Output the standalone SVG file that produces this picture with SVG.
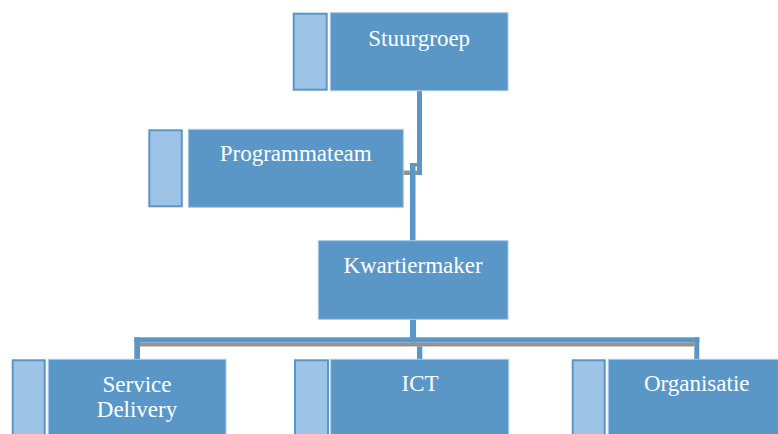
<svg xmlns="http://www.w3.org/2000/svg" width="778" height="434" viewBox="0 0 778 434">
<style>
.main{fill:#5A97C6;stroke:#A9C8E6;stroke-width:1}
.side{fill:#9DC3E6;stroke:#5A97C6;stroke-width:2}
.lbl{font-family:"Liberation Serif","DejaVu Serif",serif;font-size:23px;fill:#FFFFFF;text-anchor:middle}
.blue{fill:#5A97C6}
.gray{fill:#939393}
</style>
<rect width="778" height="434" fill="#FFFFFF"/>
<g id="connectors">
  <rect class="gray" x="402.5" y="170.5" width="19.5" height="4.5"/>
  <rect class="blue" x="417" y="90.5" width="5" height="84.5"/>
  <rect class="blue" x="410" y="163" width="12" height="3.5"/>
  <rect class="blue" x="410" y="163" width="5.5" height="78"/>
  <rect class="gray" x="410.7" y="241.5" width="5.3" height="4.2"/>
  <rect class="gray" x="140" y="342.3" width="554.3" height="4.2"/>
  <rect class="blue" x="134.3" y="337.3" width="565" height="5"/>
  <rect class="blue" x="410" y="319.5" width="6" height="22.8"/>
  <rect class="blue" x="134.3" y="337.3" width="5.7" height="27"/>
  <rect class="blue" x="694.3" y="337.3" width="5" height="27"/>
  <rect class="blue" x="417" y="346.5" width="5.3" height="17.8"/>
  <rect class="gray" x="135" y="360" width="4.3" height="4.3"/>
  <rect class="gray" x="417.3" y="360" width="4.4" height="4.3"/>
  <rect class="gray" x="695" y="360" width="4.3" height="4.3"/>
</g>
<g id="stuurgroep">
  <rect class="side" x="293.7" y="13.7" width="33" height="76"/>
  <rect class="main" x="330.3" y="12.7" width="177.7" height="78"/>
  <text class="lbl" x="419.2" y="45.7">Stuurgroep</text>
</g>
<g id="programmateam">
  <rect class="side" x="149.3" y="130.3" width="32.5" height="76"/>
  <rect class="main" x="188.3" y="129.3" width="215" height="78"/>
  <text class="lbl" x="295.7" y="160.8">Programmateam</text>
</g>
<g id="kwartiermaker">
  <rect class="main" x="318.3" y="240.7" width="189.7" height="78.6"/>
  <text class="lbl" x="413" y="273.3">Kwartiermaker</text>
</g>
<g id="service-delivery">
  <rect class="side" x="12.7" y="360.3" width="32" height="80"/>
  <rect class="main" x="48.3" y="359.3" width="177.7" height="80"/>
  <text class="lbl" x="137" y="391.5">Service</text>
  <text class="lbl" x="137" y="416.5">Delivery</text>
</g>
<g id="ict">
  <rect class="side" x="295" y="360.3" width="33" height="80"/>
  <rect class="main" x="330.7" y="359.3" width="178" height="80"/>
  <text class="lbl" x="420" y="391">ICT</text>
</g>
<g id="organisatie">
  <rect class="side" x="572.7" y="360.3" width="32" height="80"/>
  <rect class="main" x="608.3" y="359.3" width="177" height="80"/>
  <text class="lbl" x="696.7" y="391">Organisatie</text>
</g>
</svg>
